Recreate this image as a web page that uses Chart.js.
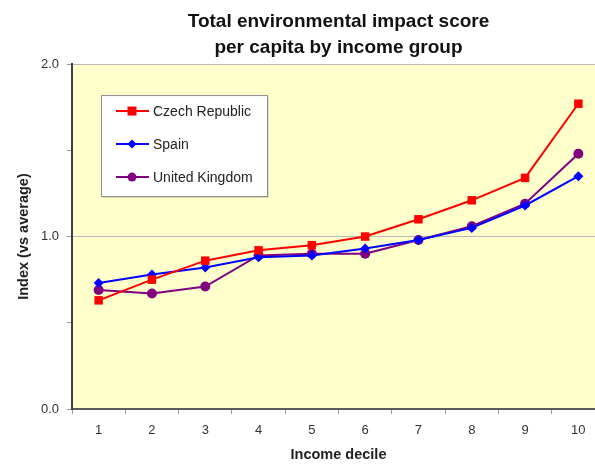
<!DOCTYPE html>
<html>
<head>
<meta charset="utf-8">
<script src="https://cdn.jsdelivr.net/npm/chart.js@4.4.0/dist/chart.umd.min.js"></script>
<style>
  html, body { margin: 0; padding: 0; overflow: hidden; background: #fff; }
  #wrap { width: 611px; height: 464px; position: relative; }
</style>
</head>
<body>
<div id="wrap"><canvas id="impact"></canvas></div>
<script>
// values
const deciles = ['1', '2', '3', '4', '5', '6', '7', '8', '9', '10']
const czech = [0.63, 0.75, 0.86, 0.92, 0.95, 1.00, 1.10, 1.21, 1.34, 1.77]
const spain = [0.73, 0.78, 0.82, 0.88, 0.89, 0.93, 0.98, 1.05, 1.18, 1.35]
const uk = [0.69, 0.67, 0.71, 0.89, 0.90, 0.90, 0.98, 1.06, 1.19, 1.48]
const titleLines = ['Total environmental impact score', 'per capita by income group']

const FONT = "'Liberation Sans', Arial, sans-serif"

// yellow plot background
const plotBg = {
    id: 'plotBg',
    beforeDraw(chart) {
        const { ctx, chartArea: a } = chart
        ctx.save()
        ctx.fillStyle = '#FFFFCC'
        ctx.fillRect(a.left, a.top, a.right - a.left, a.bottom - a.top)
        ctx.restore()
    }
}

function marker(ctx, style, x, y, color) {
    ctx.fillStyle = color
    ctx.beginPath()
    if (style === 'rect') {
        ctx.rect(x - 4.5, y - 4.5, 9, 9)
    } else if (style === 'rectRot') {
        const r = 4.5
        ctx.moveTo(x, y - r); ctx.lineTo(x + r, y); ctx.lineTo(x, y + r); ctx.lineTo(x - r, y)
        ctx.closePath()
    } else {
        ctx.arc(x, y, 4.5, 0, Math.PI * 2)
    }
    ctx.fill()
}

// legend box sitting inside the plot, like the original
const innerLegend = {
    id: 'innerLegend',
    afterDatasetsDraw(chart) {
        const { ctx, chartArea: a } = chart
        const x0 = a.left + 29, y0 = a.top + 31, w = 166, h = 101
        ctx.save()
        ctx.fillStyle = 'rgba(0,0,0,0.12)'
        ctx.fillRect(x0 + 2, y0 + 2, w, h)
        ctx.fillStyle = '#fff'
        ctx.fillRect(x0, y0, w, h)
        ctx.strokeStyle = '#8c8c8c'
        ctx.lineWidth = 1
        ctx.strokeRect(x0 + 0.5, y0 + 0.5, w, h)
        ctx.font = '14px ' + FONT
        ctx.textBaseline = 'middle'
        chart.data.datasets.forEach((ds, i) => {
            const y = y0 + 16 + i * 33
            ctx.strokeStyle = ds.borderColor
            ctx.lineWidth = 2
            ctx.beginPath()
            ctx.moveTo(x0 + 15, y)
            ctx.lineTo(x0 + 48, y)
            ctx.stroke()
            marker(ctx, ds.pointStyle, x0 + 31, y, ds.borderColor)
            ctx.fillStyle = '#222'
            ctx.fillText(ds.label, x0 + 52, y + 1)
        })
        ctx.restore()
    }
}

new Chart(document.getElementById('impact'), {
    type: 'line',
    data: {
        labels: deciles,
        datasets: [
            { label: 'Czech Republic', data: czech, borderColor: '#FF0000', backgroundColor: '#FF0000', pointStyle: 'rect', pointRadius: 6, borderWidth: 2, pointBorderWidth: 0 },
            { label: 'Spain', data: spain, borderColor: '#0000FF', backgroundColor: '#0000FF', pointStyle: 'rectRot', pointRadius: 5, borderWidth: 2, pointBorderWidth: 0 },
            { label: 'United Kingdom', data: uk, borderColor: '#800080', backgroundColor: '#800080', pointStyle: 'circle', pointRadius: 5, borderWidth: 2, pointBorderWidth: 0 }
        ]
    },
    options: {
        responsive: true,
        maintainAspectRatio: false,
        animation: false,
        layout: { padding: { left: 0, right: 2, top: 0, bottom: 0 } },
        plugins: {
            legend: { display: false },
            tooltip: { enabled: false },
            title: {
                display: true,
                text: titleLines,
                fullSize: false,
                color: '#111',
                font: { family: FONT, size: 19, weight: 'bold', lineHeight: 1.37 },
                padding: { top: 9, bottom: 3 }
            }
        },
        scales: {
            x: {
                offset: true,
                grid: { offset: true, drawOnChartArea: false, color: 'transparent', tickColor: '#999', tickLength: 5 },
                border: { display: true, color: '#5a5a5a', width: 2 },
                ticks: { color: '#333', font: { family: FONT, size: 13 }, padding: 9, maxRotation: 0 },
                title: { display: true, text: 'Income decile', color: '#222', font: { family: FONT, size: 14.5, weight: 'bold' }, padding: 0 },
                afterFit(scale) { scale.height = 55 }
            },
            y: {
                min: 0,
                max: 2,
                ticks: {
                    stepSize: 0.5,
                    color: '#333',
                    font: { family: FONT, size: 13 },
                    padding: 8,
                    callback: v => Number.isInteger(v) ? v.toFixed(1) : ''
                },
                grid: {
                    color: c => c.tick && Number.isInteger(c.tick.value) ? '#b8b8b8' : 'transparent',
                    tickColor: '#999',
                    tickLength: 5
                },
                border: { display: true, color: '#404040', width: 2 },
                title: { display: true, text: 'Index (vs average)', color: '#222', font: { family: FONT, size: 14.5, weight: 'bold' }, padding: { top: 15, bottom: 0 } },
                afterFit(scale) { scale.width = 72 }
            }
        }
    },
    plugins: [plotBg, innerLegend]
})
</script>
</body>
</html>
